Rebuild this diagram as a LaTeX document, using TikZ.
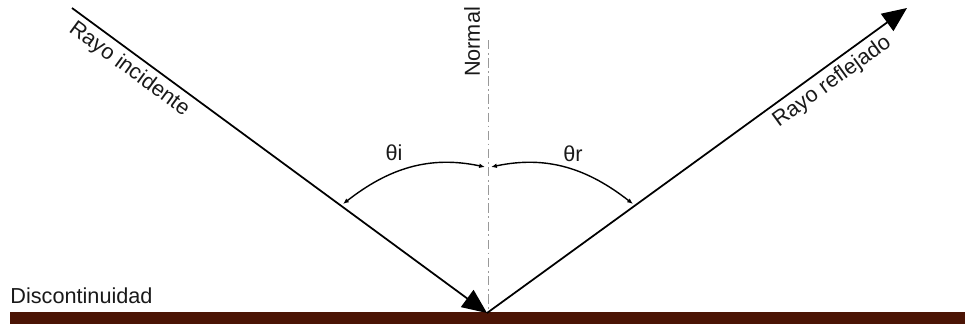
\documentclass[tikz,border=0pt]{standalone}
\usepackage{fontspec}
\setmainfont{Liberation Sans}
\usepackage{tikz}
\usetikzlibrary{arrows.meta}
\definecolor{groundbrown}{RGB}{75,20,5}

\begin{document}
\begin{tikzpicture}[
            x=0.03cm,
            y=-0.03cm,
            ray/.style={
                draw=black,
                line width=1.5pt,
                -{Triangle[length=21pt,width=18pt]}
            },
            ang/.style={
                draw=black,
                line width=1.2pt,
                {Latex[length=5pt,width=4pt]}-{Latex[length=5pt,width=4pt]}
            },
            nrm/.style={
                draw=black!40,
                line width=0.8pt,
                dash pattern=on 8pt off 3pt on 1.5pt off 3pt
            },
            lab/.style={
                font=\fontsize{18.5}{22}\selectfont,
                text=black!90,
                inner sep=1pt
            }
        ]

            \useasboundingbox (0,0) rectangle (965,324);

            % Surface
            \fill[groundbrown] (10,312) rectangle (965,324);
            \node[lab, anchor=west] (disc) at (9,296) {Discontinuidad};

            % Points
            \coordinate (src) at (72,8);
            \coordinate (hit) at (487,313);
            \coordinate (tip) at (907,8);
            \coordinate (ntop) at (488,40);
            \coordinate (nbot) at (488,312);

            % Normal
            \draw[nrm] (ntop) -- (nbot);
            \node[lab, rotate=90] (nlab) at (472,42) {Normal};

            % Rays
            \draw[ray] (src) -- node[lab, sloped, below=3pt, pos=0.16] (inc) {Rayo incidente} (hit);
            \draw[ray] (hit) -- node[lab, sloped, below=3pt, pos=0.8] (refl) {Rayo reflejado} (tip);

            % Angles
            \coordinate (ai) at (343,204);
            \coordinate (ni) at (485,167);
            \coordinate (nr) at (491,167);
            \coordinate (ar) at (633,204);
            \draw[ang] (ni) to[out=168, in=38] (ai);
            \draw[ang] (nr) to[out=12, in=142] (ar);
            \node[lab] (thi) at (394,153) {θi};
            \node[lab] (thr) at (573,154) {θr};

        \end{tikzpicture}
\end{document}
